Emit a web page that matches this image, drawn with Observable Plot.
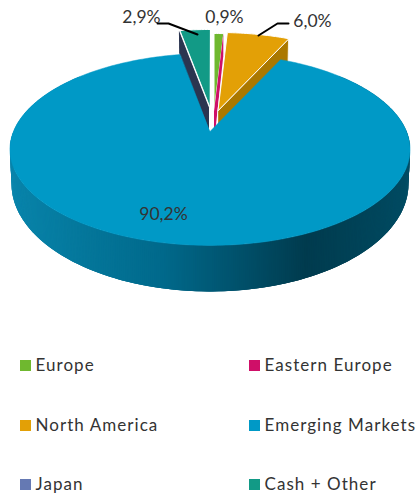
<!DOCTYPE html>
<html><head><meta charset="utf-8">
<script src="https://cdn.jsdelivr.net/npm/d3@7"></script>
<script src="https://cdn.jsdelivr.net/npm/@observablehq/plot@0.6"></script>
<style>html,body{margin:0;background:#fff}svg{display:block}.legend-text text{letter-spacing:1.05px}</style>
</head><body><div id="c"></div>
<script>
const categories = ["Europe","Eastern Europe","North America","Emerging Markets","Japan","Cash + Other"];
const values = [0.9,0.0,6.0,90.2,0.0,2.9];
const labels = ["0,9%","","6,0%","90,2%","","2,9%"];
const colors = ["#6fb82f","#cf0f68","#e3a006","#0099c6","#6579b3","#129a86"];
const wallColors = ["#4c8020","#b00c5c","#ab7800","#006a8c","#2b3550","#0c6b5d"];
const explode = [[4,-20],[4,-20],[8,-21],[0,0],[-1,-24],[0,-24]];

// view of a tilted disc: back is foreshortened, front enlarged
const cam = {cx:209.5, cy:131, a:196.5, b:92.6, p:0.187, drop:32, bottomB:104, bottomA:195};
const view = (t, r, off, low) => {
  const u = r*Math.sin(t), v = r*Math.cos(t), k = 1 + cam.p*v;
  return low
    ? [cam.cx + off[0] + cam.bottomA*u/k, cam.cy + cam.drop + off[1] - cam.bottomB*v/k]
    : [cam.cx + off[0] + cam.a*u/k, cam.cy + off[1] - cam.b*v/k];
};
const arcs = d3.pie().sort(null).value(d=>d)(values);

const tops=[], walls=[], strips=[];
arcs.forEach((arc,i)=>{
  const off = explode[i], n = Math.max(2, Math.ceil((arc.endAngle-arc.startAngle)*60));
  const rim = d3.range(n+1).map(j=>arc.startAngle+(arc.endAngle-arc.startAngle)*j/n);
  const face = [view(0,0,off,false), ...rim.map(t=>view(t,1,off,false))];
  if (values[i]>0) face.forEach(([x,y],o)=>tops.push({i,o,x,y}));
});

// side walls of the raised slices
const radial = (t,off)=>[view(0,0,off,false),view(t,1,off,false),view(t,1,off,true),view(0,0,off,true)];
const addWall=(id,pts)=>pts.forEach(([x,y],o)=>walls.push({id,o,x,y}));
addWall("japan",radial(arcs[4].startAngle,explode[4]));
addWall("na",radial(arcs[2].endAngle,explode[2]));
addWall("ee",radial(arcs[1].endAngle,explode[1]));

// outer wall of the large slice, in overlapping strips with a shading ramp
const shade = d3.scaleLinear()
  .domain([-1,-0.7,-0.2,0.4,1])
  .range(["#0a86ad","#067da2","#00698b","#003b4e","#004e66"]);
const rad = d=>d*Math.PI/180;
[...d3.range(312,270,-1),...d3.range(270,89.5,-0.5),...d3.range(90,48,-1)].forEach((d,j)=>{
  // each strip slightly overlaps its neighbour and leaves no seam
  const t=rad(d), q=rad(d-1.5);
  const w=[view(q,1,[0,0],false),view(t,1,[0,0],false),view(t,1,[0,0],true),view(q,1,[0,0],true)];
  const col=shade(Math.sin(t));
  w.forEach(([x,y],o)=>strips.push({id:j,o,x,y,col}));
});

const face = (i)=>tops.filter(d=>d.i===i);
const poly = (data,z,fill)=>Plot.line(data,{x:"x",y:"y",z,fill,stroke:"none",curve:"linear-closed"});

const legendX=[25,254], legendY=[365,425,484];
const legend = categories.map((name,i)=>({name,color:colors[i],x:legendX[i%2],y:legendY[Math.floor(i/2)]}));
const leaders = [
 {id:"a",x:157,y:23},{id:"a",x:168,y:23},{id:"a",x:197,y:34},
 {id:"b",x:288,y:23},{id:"b",x:277,y:23},{id:"b",x:258,y:35}
];
const texts = [
 {t:labels[5],x:141,y:17},{t:labels[0],x:224,y:17},{t:labels[2],x:312,y:21},{t:labels[3],x:163,y:214}
];
const font="Lato, Carlito, sans-serif";

const chart = Plot.plot({
  width:417,height:493,margin:0,style:{background:"#fff",fontFamily:font},
  x:{domain:[0,417],range:[0,417],axis:null},
  y:{domain:[0,493],range:[0,493],axis:null},
  marks:[
    poly(walls.filter(d=>d.id==="japan"),"id",wallColors[4]),
    Plot.line(face(5),{x:"x",y:"y",fill:colors[5],stroke:"#fff",strokeWidth:1,curve:"linear-closed"}),
    Plot.line(face(0),{x:"x",y:"y",fill:colors[0],stroke:"#fff",strokeWidth:1,curve:"linear-closed"}),
    poly(walls.filter(d=>d.id==="ee"),"id",colors[1]),
    Plot.line(walls.filter(d=>d.id==="na"),{x:"x",y:"y",fill:wallColors[2],stroke:"#fff",strokeWidth:0.8,curve:"linear-closed"}),
    Plot.line(face(2),{x:"x",y:"y",fill:colors[2],stroke:"#fff",strokeWidth:1,curve:"linear-closed"}),
    Plot.line(strips,{x:"x",y:"y",z:"id",fill:"col",stroke:"none",curve:"linear-closed"}),
    Plot.line(face(3),{x:"x",y:"y",fill:colors[3],stroke:colors[3],strokeWidth:0.5,curve:"linear-closed"}),
    Plot.line(leaders,{x:"x",y:"y",z:"id",stroke:"#000",strokeWidth:2,curve:"linear"}),
    Plot.text(texts,{x:"x",y:"y",text:"t",fontSize:17.5,fill:"#333",textAnchor:"middle"}),
    Plot.dot(legend,{x:"x",y:"y",symbol:"square",r:6.2,fill:"color",stroke:"none"}),
    Plot.text(legend,{x:d=>d.x+10,y:"y",text:"name",fontSize:17,fill:"#333",textAnchor:"start",className:"legend-text"})
  ]
});
document.getElementById("c").append(chart);
</script></body></html>
